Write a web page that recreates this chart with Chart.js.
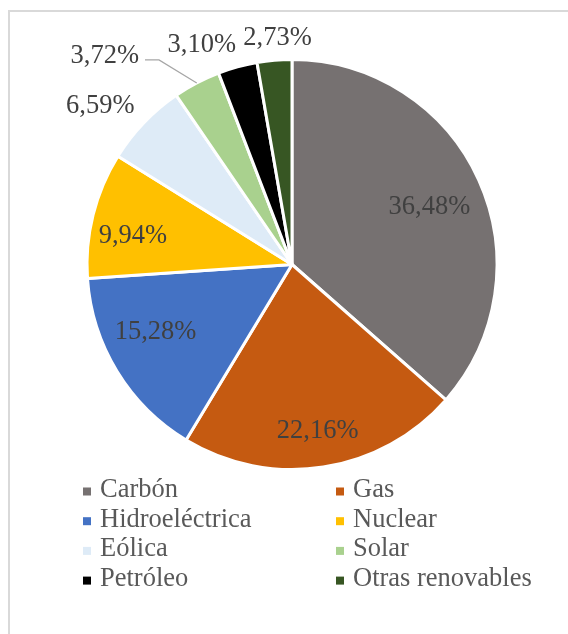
<!DOCTYPE html>
<html>
<head>
<meta charset="utf-8">
<script src="https://cdn.jsdelivr.net/npm/chart.js@4"></script>
<style>
  html, body { margin: 0; padding: 0; background: #fff; }
  #wrap { position: relative; width: 568px; height: 634px; overflow: hidden; }
  #frame { position: absolute; left: 8px; top: 10px; width: 600px; height: 700px; border: 2px solid #D9D9D9; box-sizing: border-box; }
  #chartCanvas { position: absolute; left: 0; top: 0; }
</style>
</head>
<body>
<div id="wrap">
  <div id="frame"></div>
  <canvas id="chartCanvas" width="568" height="634"></canvas>
</div>
<script>
// data
const categories = ['Carbón', 'Gas', 'Hidroeléctrica', 'Nuclear', 'Eólica', 'Solar', 'Petróleo', 'Otras renovables'];
const shares = [36.48, 22.16, 15.28, 9.94, 6.59, 3.72, 3.10, 2.73];
const sliceColors = ['#767171', '#C55A11', '#4472C4', '#FFC000', '#DEEBF7', '#A9D18E', '#000000', '#375623'];

// label placement: [radius factor, nudge x, nudge y, leader line]
const labelLayout = [
    [0.73, 1, 4, false],
    [0.82, 0, 0, false],
    [0.74, -7, -11, false],
    [0.79, -2, 11, false],
    [1.20, -14, 12, false],
    [1.00, -92, -27, true],
    [1.16, -27, 10, false],
    [1.11, 5, 0, false]
];

const labelFont = '26.5px "Liberation Serif", "Times New Roman", serif';

//---------------------------------
//Start data labels plugin
const pieLabels = {
    id: 'pieLabels',
    afterDatasetsDraw(chart) {
        const ctx = chart.ctx;
        const arcs = chart.getDatasetMeta(0).data;
        ctx.save();
        ctx.font = labelFont;
        ctx.fillStyle = '#404040';
        ctx.textAlign = 'center';
        ctx.textBaseline = 'middle';
        arcs.forEach((arc, i) => {
            const mid = (arc.startAngle + arc.endAngle) / 2;
            const lay = labelLayout[i];
            const r = arc.outerRadius * lay[0];
            let x = arc.x + Math.cos(mid) * r;
            let y = arc.y + Math.sin(mid) * r;
            const text = shares[i].toFixed(2).replace('.', ',') + '%';
            if (lay[3]) {
                const lx = x + lay[1];
                const ly = y + lay[2];
                const w = ctx.measureText(text).width;
                ctx.strokeStyle = '#A6A6A6';
                ctx.lineWidth = 1.2;
                ctx.beginPath();
                ctx.moveTo(x, y);
                ctx.lineTo(lx + w / 2 + 20, ly + 4);
                ctx.lineTo(lx + w / 2 + 6, ly + 4);
                ctx.stroke();
                ctx.fillText(text, lx, ly);
            } else {
                ctx.fillText(text, x + lay[1], y + lay[2]);
            }
        });
        ctx.restore();
    }
};
//End data labels plugin
//---------------------------------

//---------------------------------
//Start legend plugin (two columns)
const twoColLegend = {
    id: 'twoColLegend',
    afterDraw(chart) {
        const ctx = chart.ctx;
        const ds = chart.data.datasets[0];
        ctx.save();
        ctx.font = labelFont;
        ctx.textAlign = 'left';
        ctx.textBaseline = 'middle';
        chart.data.labels.forEach((lbl, i) => {
            const col = i % 2;
            const row = Math.floor(i / 2);
            const mx = col === 0 ? 83 : 336;
            const y = 490 + row * 29.7;
            ctx.fillStyle = ds.backgroundColor[i];
            ctx.fillRect(mx, y - 2.5, 8, 8);
            ctx.fillStyle = '#595959';
            ctx.fillText(lbl, mx + 17, y);
        });
        ctx.restore();
    }
};
//End legend plugin
//---------------------------------

const ctx = document.getElementById('chartCanvas');

new Chart(ctx, {
    type: 'pie',
    data: {
        labels: categories,
        datasets: [{
            data: shares,
            backgroundColor: sliceColors,
            borderColor: '#ffffff',
            borderWidth: 3,
            hoverOffset: 0
        }]
    },
    options: {
        responsive: false,
        animation: false,
        radius: 205,
        layout: {
            padding: { left: 82, right: 66, top: 55, bottom: 160 }
        },
        plugins: {
            legend: { display: false },
            tooltip: { enabled: false }
        }
    },
    plugins: [pieLabels, twoColLegend]
});
</script>
</body>
</html>
